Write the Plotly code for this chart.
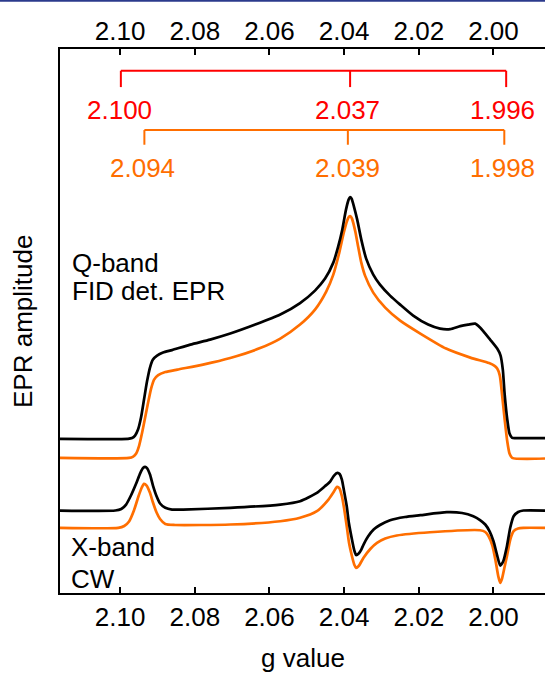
import plotly.graph_objects as go

# ---------------- data ----------------
g_ticks = [2.10, 2.08, 2.06, 2.04, 2.02, 2.00]
g_tick_text = ["2.10", "2.08", "2.06", "2.04", "2.02", "2.00"]

# Q-band FID-detected EPR, experiment (black)
q_exp_g = [2.1161, 2.0979, 2.0968, 2.0960, 2.0952, 2.0944, 2.0936, 2.0928, 2.0920, 2.0912,
           2.0901, 2.0885, 2.0861, 2.0812, 2.0759, 2.0705, 2.0638, 2.0571, 2.0518, 2.0478,
           2.0451, 2.0429, 2.0416, 2.0405, 2.0395, 2.0388, 2.0384, 2.0380, 2.0373, 2.0365,
           2.0354, 2.0341, 2.0322, 2.0304, 2.0277, 2.0250, 2.0215, 2.0175, 2.0143, 2.0116,
           2.0089, 2.0068, 2.0049, 2.0036, 2.0009, 1.9990, 1.9981, 1.9975, 1.9970, 1.9963,
           1.9957, 1.9950, 1.9939, 1.9862]
q_exp_a = [2.834, 2.834, 2.848, 2.894, 3.004, 3.225, 3.556, 3.887, 4.145, 4.292,
           4.365, 4.420, 4.465, 4.566, 4.658, 4.769, 4.934, 5.118, 5.329, 5.559,
           5.779, 6.073, 6.367, 6.679, 7.047, 7.231, 7.277, 7.249, 7.084, 6.863,
           6.496, 6.147, 5.853, 5.669, 5.467, 5.301, 5.099, 4.934, 4.860, 4.851,
           4.906, 4.934, 4.952, 4.879, 4.658, 4.493, 4.364, 4.107, 3.648, 3.188,
           2.931, 2.852, 2.848, 2.848]

# Q-band simulation (orange)
q_sim_g = [2.1161, 2.0976, 2.0965, 2.0957, 2.0949, 2.0941, 2.0933, 2.0925, 2.0917, 2.0909,
           2.0898, 2.0879, 2.0847, 2.0778, 2.0705, 2.0625, 2.0571, 2.0518, 2.0478, 2.0448,
           2.0429, 2.0413, 2.0401, 2.0392, 2.0387, 2.0383, 2.0379, 2.0370, 2.0362, 2.0354,
           2.0344, 2.0322, 2.0290, 2.0250, 2.0196, 2.0127, 2.0062, 2.0012, 1.9998, 1.9990,
           1.9983, 1.9977, 1.9970, 1.9963, 1.9957, 1.9950, 1.9862]
q_sim_a = [2.484, 2.484, 2.508, 2.563, 2.710, 2.949, 3.225, 3.500, 3.757, 3.923,
           4.006, 4.061, 4.107, 4.199, 4.319, 4.502, 4.677, 4.934, 5.209, 5.540,
           5.853, 6.257, 6.624, 6.844, 6.918, 6.927, 6.882, 6.643, 6.349, 6.073,
           5.834, 5.522, 5.246, 5.007, 4.769, 4.493, 4.327, 4.226, 4.180, 4.125,
           3.997, 3.648, 3.188, 2.784, 2.563, 2.484, 2.472]

# X-band CW EPR, experiment (black)
x_exp_g = [2.1161, 2.1013, 2.0997, 2.0984, 2.0971, 2.0957, 2.0946, 2.0938, 2.0933, 2.0928,
           2.0920, 2.0912, 2.0902, 2.0893, 2.0879, 2.0861, 2.0831, 2.0705, 2.0571, 2.0518,
           2.0473, 2.0451, 2.0437, 2.0427, 2.0418, 2.0412, 2.0406, 2.0400, 2.0393, 2.0387,
           2.0379, 2.0373, 2.0368, 2.0361, 2.0354, 2.0348, 2.0336, 2.0321, 2.0304, 2.0277,
           2.0237, 2.0196, 2.0125, 2.0084, 2.0054, 2.0036, 2.0022, 2.0010, 2.0000, 1.9990,
           1.9982, 1.9974, 1.9964, 1.9955, 1.9946, 1.9934, 1.9920, 1.9862]
x_exp_a = [1.516, 1.516, 1.544, 1.626, 1.792, 2.012, 2.205, 2.301, 2.319, 2.297,
           2.177, 1.975, 1.773, 1.645, 1.566, 1.534, 1.534, 1.566, 1.626, 1.687,
           1.841, 1.966, 2.054, 2.159, 2.209, 2.187, 2.086, 1.865, 1.595, 1.277,
           0.983, 0.790, 0.698, 0.726, 0.799, 0.891, 1.038, 1.167, 1.250, 1.338,
           1.397, 1.430, 1.485, 1.470, 1.411, 1.341, 1.259, 1.130, 0.952, 0.689,
           0.505, 0.579, 0.860, 1.204, 1.411, 1.488, 1.516, 1.516]

# X-band simulation (orange)
x_sim_g = [2.1161, 2.1005, 2.0989, 2.0976, 2.0963, 2.0951, 2.0942, 2.0936, 2.0929, 2.0920,
           2.0912, 2.0902, 2.0893, 2.0879, 2.0853, 2.0705, 2.0571, 2.0518, 2.0473, 2.0442,
           2.0429, 2.0419, 2.0413, 2.0406, 2.0400, 2.0393, 2.0387, 2.0379, 2.0373, 2.0368,
           2.0361, 2.0348, 2.0330, 2.0312, 2.0290, 2.0259, 2.0170, 2.0036, 2.0022, 2.0013,
           2.0003, 1.9995, 1.9987, 1.9982, 1.9977, 1.9970, 1.9964, 1.9955, 1.9946, 1.9934,
           1.9920, 1.9862]
x_sim_a = [1.198, 1.198, 1.231, 1.314, 1.516, 1.773, 1.939, 2.007, 1.975, 1.841,
           1.663, 1.474, 1.360, 1.268, 1.250, 1.259, 1.319, 1.382, 1.503, 1.718,
           1.847, 1.951, 1.929, 1.779, 1.553, 1.227, 0.928, 0.676, 0.524, 0.463,
           0.496, 0.647, 0.809, 0.922, 1.001, 1.057, 1.117, 1.154, 1.121, 1.044,
           0.873, 0.616, 0.303, 0.187, 0.266, 0.487, 0.676, 0.983, 1.136, 1.185,
           1.198, 1.198]

# g-tensor brackets (principal g values; tick and label positions)
red_labels = ["2.100", "2.037", "1.996"]
red_tick_g = [2.0998, 2.0384, 1.9966]
red_label_g = [2.1001, 2.0390, 1.9976]
orange_labels = ["2.094", "2.039", "1.998"]
orange_tick_g = [2.0935, 2.0390, 1.9971]
orange_label_g = [2.0941, 2.0390, 1.9976]

BLACK = "#000000"
ORANGE = "#ff6e00"
RED = "#ff0000"
FONT = "Liberation Sans, Arial, sans-serif"
FS = 26

fig = go.Figure()
for gx, ay, col in [(q_sim_g, q_sim_a, ORANGE), (q_exp_g, q_exp_a, BLACK),
                    (x_sim_g, x_sim_a, ORANGE), (x_exp_g, x_exp_a, BLACK)]:
    fig.add_trace(go.Scatter(x=gx, y=ay, mode="lines",
                             line=dict(color=col, width=2.7, shape="spline", smoothing=0.6),
                             showlegend=False, hoverinfo="skip"))
# dummy trace for top axis
fig.add_trace(go.Scatter(x=[g_ticks[0]], y=[None], xaxis="x2", mode="markers",
                         showlegend=False, hoverinfo="skip"))

X_RANGE = [2.1161, 1.9862]
axis_common = dict(range=X_RANGE, tickvals=g_ticks, ticktext=g_tick_text,
                   ticks="inside", ticklen=6, tickwidth=2, tickcolor="black",
                   showline=True, linewidth=2.2, linecolor="black", showgrid=False,
                   zeroline=False, tickfont=dict(family=FONT, size=FS, color="black"))
fig.update_layout(
    width=545, height=674,
    margin=dict(l=60, r=0, t=49.3, b=80.5),
    paper_bgcolor="white", plot_bgcolor="white",
    xaxis=dict(**axis_common, side="bottom", ticklabelstandoff=0),
    xaxis2=dict(**axis_common, side="top", overlaying="x", matches="x", ticklabelstandoff=-3),
    yaxis=dict(range=[0, 10], showline=True, linewidth=2.2, linecolor="black",
               showticklabels=False, ticks="", showgrid=False, zeroline=False),
    font=dict(family=FONT, size=FS, color="black"),
)

shapes = []
# top blue bar
shapes.append(dict(type="rect", xref="paper", yref="paper", x0=-0.2, x1=1.2,
                   y0=1.0869, y1=1.095, fillcolor="#2b3a8c", line=dict(width=0)))
# brackets
for vals, col, ytop, ybot in [(red_tick_g, RED, 9.60, 9.30), (orange_tick_g, ORANGE, 8.51, 8.24)]:
    shapes.append(dict(type="line", xref="x", yref="y", x0=vals[0], x1=vals[-1],
                       y0=ytop, y1=ytop, line=dict(color=col, width=2)))
    for v in vals:
        shapes.append(dict(type="line", xref="x", yref="y", x0=v, x1=v,
                           y0=ytop, y1=ybot, line=dict(color=col, width=2)))
fig.update_layout(shapes=shapes)

ann = []
for v, t in zip(red_label_g, red_labels):
    ann.append(dict(x=v, y=8.87, xref="x", yref="y", text=t, showarrow=False,
                    font=dict(family=FONT, size=FS, color=RED), xanchor="center", yanchor="middle"))
for v, t in zip(orange_label_g, orange_labels):
    ann.append(dict(x=v, y=7.81, xref="x", yref="y", text=t, showarrow=False,
                    font=dict(family=FONT, size=FS, color=ORANGE), xanchor="center", yanchor="middle"))
for t, yv in [("Q-band", 6.07), ("FID det. EPR", 5.56)]:
    ann.append(dict(x=2.1134, y=yv, xref="x", yref="y", text=t, showarrow=False,
                    xanchor="left", yanchor="middle", font=dict(family=FONT, size=FS, color="black")))
for t, yv in [("X-band", 0.84), ("CW", 0.25)]:
    ann.append(dict(x=2.1136, y=yv, xref="x", yref="y", text=t, showarrow=False,
                    xanchor="left", yanchor="middle", font=dict(family=FONT, size=FS, color="black")))
ann.append(dict(x=-0.0763, y=0.5, xref="paper", yref="paper", text="EPR amplitude",
                showarrow=False, textangle=-90, xanchor="center", yanchor="middle",
                font=dict(family=FONT, size=FS, color="black")))
ann.append(dict(x=0.5, y=-0.1204, xref="paper", yref="paper", text="g value",
                showarrow=False, xanchor="center", yanchor="middle",
                font=dict(family=FONT, size=FS, color="black")))
fig.update_layout(annotations=ann)

fig.write_html("out.html")
